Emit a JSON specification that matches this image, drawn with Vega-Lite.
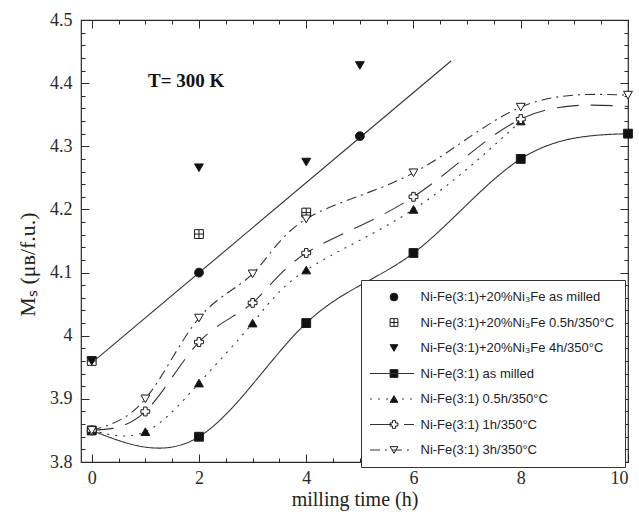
{
  "$schema": "https://vega.github.io/schema/vega-lite/v6.json",
  "width": 547,
  "height": 442,
  "autosize": {"type": "none"},
  "padding": {"left": 81, "top": 20, "right": 11, "bottom": 56},
  "background": "#ffffff",
  "config": {
    "view": {"stroke": "#2a2a2a", "strokeWidth": 1.2},
    "axis": {
      "domain": false,
      "grid": false,
      "labelFont": "Liberation Serif",
      "titleFont": "Liberation Serif",
      "labelColor": "#2a2a2a",
      "titleColor": "#222222",
      "tickColor": "#2a2a2a",
      "tickWidth": 1,
      "labelFontSize": 18,
      "titleFontSize": 20,
      "titleFontWeight": "normal"
    }
  },
  "datasets": {
    "points": [
      {"series": "Ni-Fe(3:1)+20%Ni₃Fe 0.5h/350°C", "x": 0, "y": 3.96},
      {"series": "Ni-Fe(3:1)+20%Ni₃Fe 0.5h/350°C", "x": 2, "y": 4.161},
      {"series": "Ni-Fe(3:1)+20%Ni₃Fe 0.5h/350°C", "x": 4, "y": 4.195},
      {"series": "Ni-Fe(3:1)+20%Ni₃Fe 4h/350°C", "x": 0, "y": 3.96},
      {"series": "Ni-Fe(3:1)+20%Ni₃Fe 4h/350°C", "x": 2, "y": 4.266},
      {"series": "Ni-Fe(3:1)+20%Ni₃Fe 4h/350°C", "x": 4, "y": 4.275},
      {"series": "Ni-Fe(3:1)+20%Ni₃Fe 4h/350°C", "x": 5, "y": 4.428},
      {"series": "Ni-Fe(3:1)+20%Ni₃Fe as milled", "x": 2, "y": 4.1},
      {"series": "Ni-Fe(3:1)+20%Ni₃Fe as milled", "x": 5, "y": 4.316},
      {"series": "Ni-Fe(3:1) as milled", "x": 0, "y": 3.85},
      {"series": "Ni-Fe(3:1) as milled", "x": 2, "y": 3.84},
      {"series": "Ni-Fe(3:1) as milled", "x": 4, "y": 4.02},
      {"series": "Ni-Fe(3:1) as milled", "x": 6, "y": 4.131},
      {"series": "Ni-Fe(3:1) as milled", "x": 8, "y": 4.28},
      {"series": "Ni-Fe(3:1) as milled", "x": 10, "y": 4.32},
      {"series": "Ni-Fe(3:1) 0.5h/350°C", "x": 0, "y": 3.85},
      {"series": "Ni-Fe(3:1) 0.5h/350°C", "x": 1, "y": 3.848},
      {"series": "Ni-Fe(3:1) 0.5h/350°C", "x": 2, "y": 3.925},
      {"series": "Ni-Fe(3:1) 0.5h/350°C", "x": 3, "y": 4.02},
      {"series": "Ni-Fe(3:1) 0.5h/350°C", "x": 4, "y": 4.104},
      {"series": "Ni-Fe(3:1) 0.5h/350°C", "x": 6, "y": 4.2},
      {"series": "Ni-Fe(3:1) 0.5h/350°C", "x": 8, "y": 4.34},
      {"series": "Ni-Fe(3:1) 1h/350°C", "x": 0, "y": 3.85},
      {"series": "Ni-Fe(3:1) 1h/350°C", "x": 1, "y": 3.88},
      {"series": "Ni-Fe(3:1) 1h/350°C", "x": 2, "y": 3.99},
      {"series": "Ni-Fe(3:1) 1h/350°C", "x": 3, "y": 4.052},
      {"series": "Ni-Fe(3:1) 1h/350°C", "x": 4, "y": 4.131},
      {"series": "Ni-Fe(3:1) 1h/350°C", "x": 6, "y": 4.22},
      {"series": "Ni-Fe(3:1) 1h/350°C", "x": 8, "y": 4.343},
      {"series": "Ni-Fe(3:1) 3h/350°C", "x": 0, "y": 3.85},
      {"series": "Ni-Fe(3:1) 3h/350°C", "x": 1, "y": 3.9},
      {"series": "Ni-Fe(3:1) 3h/350°C", "x": 2, "y": 4.028},
      {"series": "Ni-Fe(3:1) 3h/350°C", "x": 3, "y": 4.098},
      {"series": "Ni-Fe(3:1) 3h/350°C", "x": 4, "y": 4.185},
      {"series": "Ni-Fe(3:1) 3h/350°C", "x": 6, "y": 4.258},
      {"series": "Ni-Fe(3:1) 3h/350°C", "x": 8, "y": 4.362},
      {"series": "Ni-Fe(3:1) 3h/350°C", "x": 10, "y": 4.381}
    ],
    "curves": [
      {"series": "Ni-Fe(3:1) as milled", "x": 0, "y": 3.85},
      {"series": "Ni-Fe(3:1) as milled", "x": 2, "y": 3.84},
      {"series": "Ni-Fe(3:1) as milled", "x": 4, "y": 4.02},
      {"series": "Ni-Fe(3:1) as milled", "x": 6, "y": 4.131},
      {"series": "Ni-Fe(3:1) as milled", "x": 8, "y": 4.28},
      {"series": "Ni-Fe(3:1) as milled", "x": 10, "y": 4.32},
      {"series": "Ni-Fe(3:1) 0.5h/350°C", "x": 0, "y": 3.85},
      {"series": "Ni-Fe(3:1) 0.5h/350°C", "x": 1, "y": 3.848},
      {"series": "Ni-Fe(3:1) 0.5h/350°C", "x": 2, "y": 3.925},
      {"series": "Ni-Fe(3:1) 0.5h/350°C", "x": 3, "y": 4.02},
      {"series": "Ni-Fe(3:1) 0.5h/350°C", "x": 4, "y": 4.104},
      {"series": "Ni-Fe(3:1) 0.5h/350°C", "x": 6, "y": 4.2},
      {"series": "Ni-Fe(3:1) 0.5h/350°C", "x": 8, "y": 4.34},
      {"series": "Ni-Fe(3:1) 1h/350°C", "x": 0, "y": 3.85},
      {"series": "Ni-Fe(3:1) 1h/350°C", "x": 1, "y": 3.88},
      {"series": "Ni-Fe(3:1) 1h/350°C", "x": 2, "y": 3.99},
      {"series": "Ni-Fe(3:1) 1h/350°C", "x": 3, "y": 4.052},
      {"series": "Ni-Fe(3:1) 1h/350°C", "x": 4, "y": 4.131},
      {"series": "Ni-Fe(3:1) 1h/350°C", "x": 6, "y": 4.22},
      {"series": "Ni-Fe(3:1) 1h/350°C", "x": 8, "y": 4.343},
      {"series": "Ni-Fe(3:1) 1h/350°C", "x": 10, "y": 4.363},
      {"series": "Ni-Fe(3:1) 3h/350°C", "x": 0, "y": 3.85},
      {"series": "Ni-Fe(3:1) 3h/350°C", "x": 1, "y": 3.9},
      {"series": "Ni-Fe(3:1) 3h/350°C", "x": 2, "y": 4.028},
      {"series": "Ni-Fe(3:1) 3h/350°C", "x": 3, "y": 4.098},
      {"series": "Ni-Fe(3:1) 3h/350°C", "x": 4, "y": 4.185},
      {"series": "Ni-Fe(3:1) 3h/350°C", "x": 6, "y": 4.258},
      {"series": "Ni-Fe(3:1) 3h/350°C", "x": 8, "y": 4.362},
      {"series": "Ni-Fe(3:1) 3h/350°C", "x": 10, "y": 4.381}
    ],
    "fit": [
      {"x": 0, "y": 3.957},
      {"x": 6.7, "y": 4.435}
    ],
    "notes": [
      {"x": 1.05, "y": 4.404, "label": "T=  300 K"}
    ]
  },
  "layer": [
    {
      "data": {"name": "curves"},
      "mark": {"type": "line", "interpolate": "natural", "stroke": "#333333", "strokeWidth": 1.1},
      "encoding": {
        "x": {"field": "x", "type": "quantitative", "scale": {"domain": [-0.2, 10], "nice": false, "zero": false},
          "axis": {"orient": "bottom", "values": [0, 2, 4, 6, 8, 10], "ticks": false, "labelPadding": 7, "title": "milling time (h)", "titlePadding": 2}},
        "y": {"field": "y", "type": "quantitative", "scale": {"domain": [3.8, 4.5], "nice": false, "zero": false},
          "axis": {"orient": "left", "values": [3.8, 3.9, 4, 4.1, 4.2, 4.3, 4.4, 4.5], "format": "~g", "ticks": false, "labelPadding": 9, "title": "Mₛ (μʙ/f.u.)", "titleX": -54, "titleY": 244, "titleBaseline": "middle", "titleFontSize": 22}},
        "strokeDash": {"field": "series", "type": "nominal",
          "scale": {"domain": ["Ni-Fe(3:1) as milled", "Ni-Fe(3:1) 0.5h/350°C", "Ni-Fe(3:1) 1h/350°C", "Ni-Fe(3:1) 3h/350°C"],
            "range": [[1, 0], [2, 6], [22, 12], [10, 5, 2, 5]]},
          "legend": {"orient": "none", "legendX": 288.5, "legendY": 346.5, "title": null, "symbolType": "stroke", "symbolSize": 1936,
            "symbolStrokeColor": "#333333", "symbolStrokeWidth": 1, "labelExpr": "''", "labelFont": "Liberation Sans", "labelFontSize": 13,
            "rowPadding": 11.5, "clipHeight": 14, "padding": 0, "zindex": 2}}
      }
    },
    {
      "data": {"name": "fit"},
      "mark": {"type": "line", "stroke": "#333333", "strokeWidth": 1.1},
      "encoding": {
        "x": {"field": "x", "type": "quantitative", "scale": {"domain": [-0.2, 10], "nice": false, "zero": false},
          "axis": {"orient": "bottom", "values": [0, 2, 4, 6, 8, 10], "labels": false, "tickSize": -8, "title": null}},
        "y": {"field": "y", "type": "quantitative", "scale": {"domain": [3.8, 4.5], "nice": false, "zero": false},
          "axis": {"orient": "left", "values": [3.8, 3.9, 4, 4.1, 4.2, 4.3, 4.4, 4.5], "labels": false, "tickSize": -8, "title": null}}
      }
    },
    {
      "data": {"name": "points"},
      "mark": {"type": "point", "filled": true, "strokeWidth": 1, "opacity": 1, "size": 78},
      "encoding": {
        "x": {"field": "x", "type": "quantitative", "scale": {"domain": [-0.2, 10], "nice": false, "zero": false},
          "axis": {"orient": "bottom", "values": [0, 0.5, 1, 1.5, 2, 2.5, 3, 3.5, 4, 4.5, 5, 5.5, 6, 6.5, 7, 7.5, 8, 8.5, 9, 9.5, 10], "labels": false, "tickSize": -4, "title": null}},
        "y": {"field": "y", "type": "quantitative", "scale": {"domain": [3.8, 4.5], "nice": false, "zero": false},
          "axis": {"orient": "left", "values": [3.8, 3.82, 3.84, 3.86, 3.88, 3.9, 3.92, 3.94, 3.96, 3.98, 4, 4.02, 4.04, 4.06, 4.08, 4.1, 4.12, 4.14, 4.16, 4.18, 4.2, 4.22, 4.24, 4.26, 4.28, 4.3, 4.32, 4.34, 4.36, 4.38, 4.4, 4.42, 4.44, 4.46, 4.48, 4.5], "labels": false, "tickSize": -4, "title": null}},
        "shape": {"field": "series", "type": "nominal",
          "scale": {"domain": ["Ni-Fe(3:1)+20%Ni₃Fe as milled", "Ni-Fe(3:1)+20%Ni₃Fe 0.5h/350°C", "Ni-Fe(3:1)+20%Ni₃Fe 4h/350°C", "Ni-Fe(3:1) as milled", "Ni-Fe(3:1) 0.5h/350°C", "Ni-Fe(3:1) 1h/350°C", "Ni-Fe(3:1) 3h/350°C"],
            "range": ["circle", "M-1,-1L1,-1L1,1L-1,1Z M0,-1L0,1 M-1,0L1,0", "triangle-down", "square", "triangle-up", "cross", "triangle-down"]},
          "legend": {"orient": "none", "legendX": 280, "legendY": 260, "title": null, "padding": 10, "strokeColor": "#333333", "fillColor": "#ffffff",
            "symbolSize": 60, "symbolOffset": 16.5, "labelOffset": 20, "labelFont": "Liberation Sans", "labelFontSize": 13, "labelColor": "#222222",
            "rowPadding": 11.5, "clipHeight": 14, "zindex": 1, "symbolStrokeWidth": 1, "labelLimit": 400}},
        "fill": {"field": "series", "type": "nominal",
          "scale": {"domain": ["Ni-Fe(3:1)+20%Ni₃Fe as milled", "Ni-Fe(3:1)+20%Ni₃Fe 0.5h/350°C", "Ni-Fe(3:1)+20%Ni₃Fe 4h/350°C", "Ni-Fe(3:1) as milled", "Ni-Fe(3:1) 0.5h/350°C", "Ni-Fe(3:1) 1h/350°C", "Ni-Fe(3:1) 3h/350°C"],
            "range": ["#111111", "#ffffff", "#111111", "#111111", "#111111", "#ffffff", "#ffffff"]}},
        "stroke": {"field": "series", "type": "nominal",
          "scale": {"domain": ["Ni-Fe(3:1)+20%Ni₃Fe as milled", "Ni-Fe(3:1)+20%Ni₃Fe 0.5h/350°C", "Ni-Fe(3:1)+20%Ni₃Fe 4h/350°C", "Ni-Fe(3:1) as milled", "Ni-Fe(3:1) 0.5h/350°C", "Ni-Fe(3:1) 1h/350°C", "Ni-Fe(3:1) 3h/350°C"],
            "range": ["#1a1a1a", "#1a1a1a", "#1a1a1a", "#1a1a1a", "#1a1a1a", "#1a1a1a", "#1a1a1a"]}}
      }
    },
    {
      "data": {"name": "points"},
      "transform": [{"filter": "datum.series === 'Ni-Fe(3:1)+20%Ni₃Fe 4h/350°C' && datum.x === 0"}],
      "mark": {"type": "point", "shape": "triangle-down", "filled": true, "fill": "#111111", "stroke": "#1a1a1a", "strokeWidth": 1, "opacity": 1, "size": 78},
      "encoding": {
        "x": {"field": "x", "type": "quantitative", "scale": {"domain": [-0.2, 10], "nice": false, "zero": false}, "axis": null},
        "y": {"field": "y", "type": "quantitative", "scale": {"domain": [3.8, 4.5], "nice": false, "zero": false}, "axis": null}
      }
    },
    {
      "data": {"name": "notes"},
      "mark": {"type": "text", "align": "left", "baseline": "middle", "font": "Liberation Serif", "fontWeight": "bold", "fontSize": 19, "color": "#111111"},
      "encoding": {
        "x": {"field": "x", "type": "quantitative", "scale": {"domain": [-0.2, 10], "nice": false, "zero": false},
          "axis": {"orient": "top", "values": [0, 2, 4, 6, 8, 10], "labels": false, "tickSize": -8, "title": null}},
        "y": {"field": "y", "type": "quantitative", "scale": {"domain": [3.8, 4.5], "nice": false, "zero": false},
          "axis": {"orient": "right", "values": [3.8, 3.9, 4, 4.1, 4.2, 4.3, 4.4, 4.5], "labels": false, "tickSize": -8, "title": null}},
        "text": {"field": "label"}
      }
    },
    {
      "data": {"name": "fit"},
      "mark": {"type": "point", "opacity": 0},
      "encoding": {
        "x": {"field": "x", "type": "quantitative", "scale": {"domain": [-0.2, 10], "nice": false, "zero": false},
          "axis": {"orient": "top", "values": [0, 0.5, 1, 1.5, 2, 2.5, 3, 3.5, 4, 4.5, 5, 5.5, 6, 6.5, 7, 7.5, 8, 8.5, 9, 9.5, 10], "labels": false, "tickSize": -4, "title": null}},
        "y": {"field": "y", "type": "quantitative", "scale": {"domain": [3.8, 4.5], "nice": false, "zero": false},
          "axis": {"orient": "right", "values": [3.8, 3.82, 3.84, 3.86, 3.88, 3.9, 3.92, 3.94, 3.96, 3.98, 4, 4.02, 4.04, 4.06, 4.08, 4.1, 4.12, 4.14, 4.16, 4.18, 4.2, 4.22, 4.24, 4.26, 4.28, 4.3, 4.32, 4.34, 4.36, 4.38, 4.4, 4.42, 4.44, 4.46, 4.48, 4.5], "labels": false, "tickSize": -4, "title": null}}
      }
    }
  ],
  "resolve": {"axis": {"x": "independent", "y": "independent"}}
}
